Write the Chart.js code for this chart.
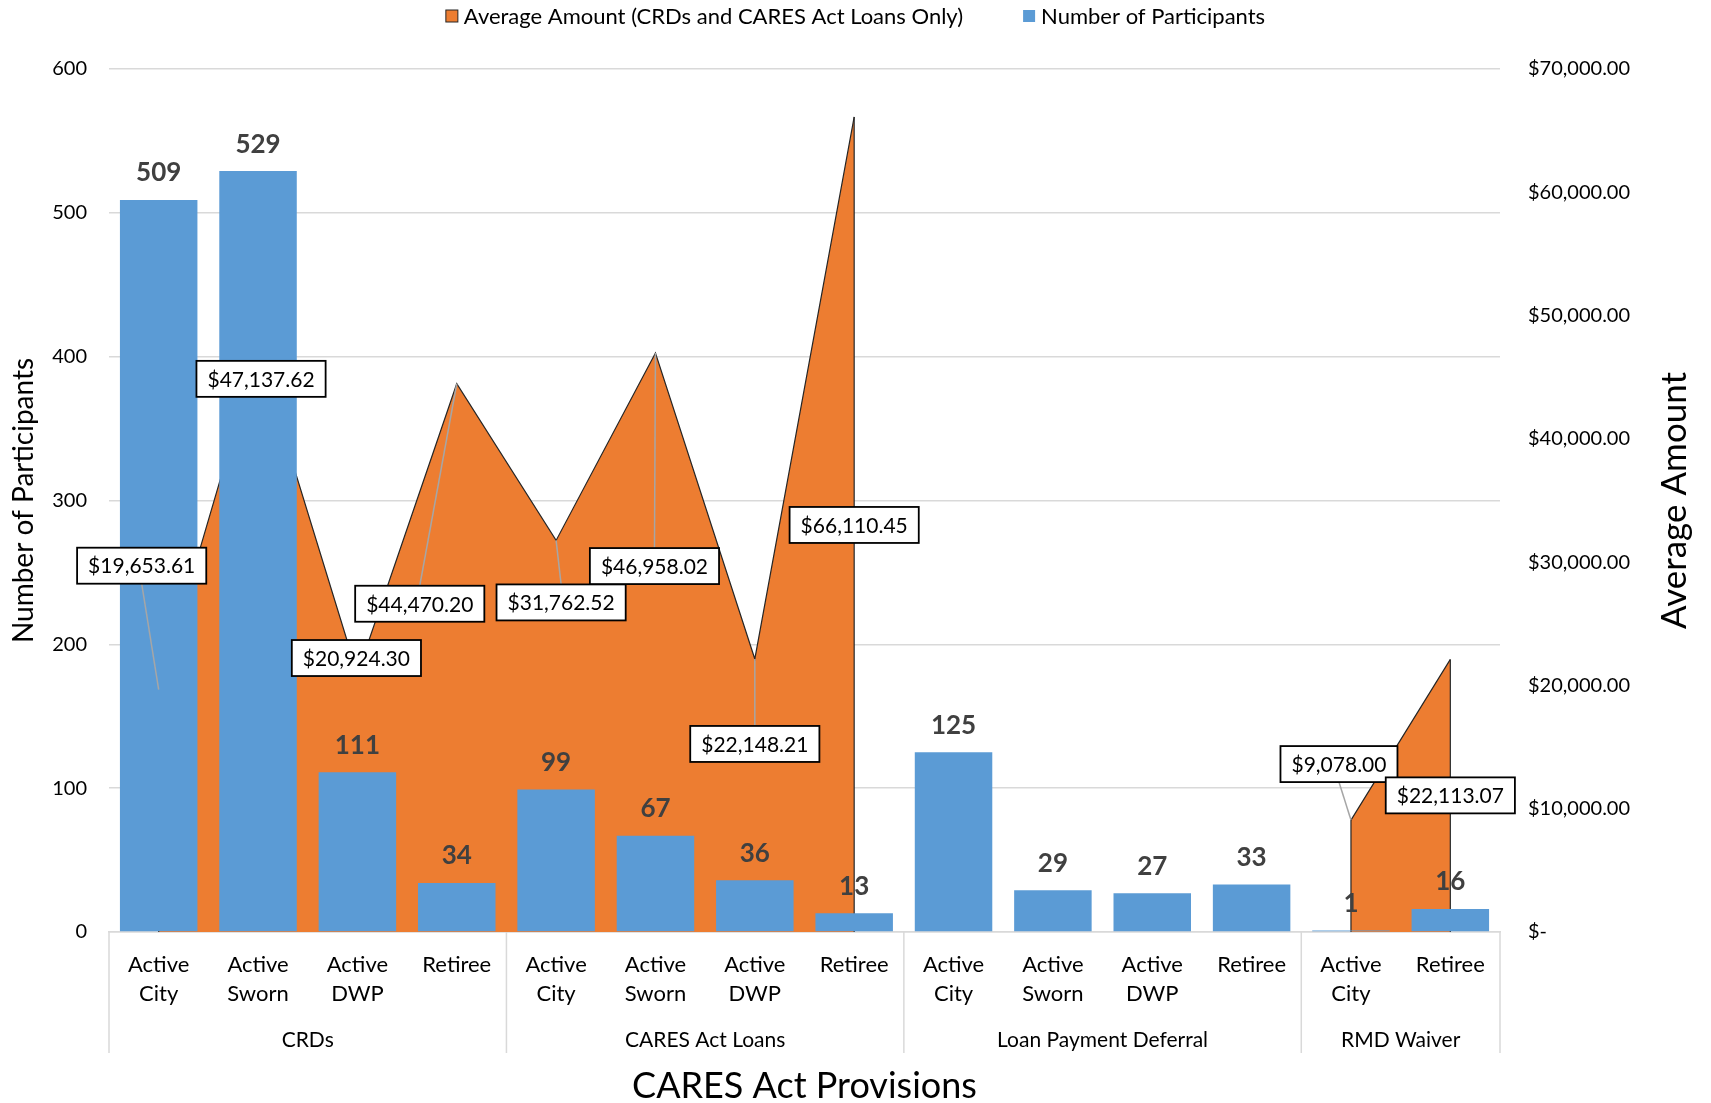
<!DOCTYPE html>
<html lang="en">
<head>
<meta charset="UTF-8">
<title>CARES Act Provisions</title>
<script src="https://cdn.jsdelivr.net/npm/chart.js"></script>
<style>
  body { margin: 0; background: #fff; }
  canvas { display: block; }
</style>
</head>
<body>
<canvas id="caresChart" width="1711" height="1103"></canvas>
<script>
// participant groups along the category axis
const categories = [
  ['Active', 'City'], ['Active', 'Sworn'], ['Active', 'DWP'], ['Retiree'],
  ['Active', 'City'], ['Active', 'Sworn'], ['Active', 'DWP'], ['Retiree'],
  ['Active', 'City'], ['Active', 'Sworn'], ['Active', 'DWP'], ['Retiree'],
  ['Active', 'City'], ['Retiree']
];
const provisions = ['CRDs', 'CARES Act Loans', 'Loan Payment Deferral', 'RMD Waiver'];
const provisionSizes = [4, 4, 4, 2];

const participants = [509, 529, 111, 34, 99, 67, 36, 13, 125, 29, 27, 33, 1, 16];
const avgAmount = [19653.61, 47137.62, 20924.30, 44470.20, 31762.52, 46958.02, 22148.21, 66110.45,
  null, null, null, null, 9078.00, 22113.07];

// where each amount callout sits relative to its point
const calloutOffsets = [
  { dx: -17, dy: -124, leader: true },
  { dx: 3, dy: 28, leader: false },
  { dx: -1, dy: -16, leader: false },
  { dx: -37, dy: 220, leader: true },
  { dx: 5, dy: 62, leader: true },
  { dx: -1, dy: 213, leader: true },
  { dx: 0, dy: 85, leader: true },
  { dx: 0, dy: 408, leader: false },
  null, null, null, null,
  { dx: -12, dy: -56, leader: true },
  { dx: 0, dy: 136, leader: false }
];

const FONT = 'Lato, "Open Sans", sans-serif';
const BLUE = '#5B9BD5';
const ORANGE = '#ED7D31';
const GRID = '#D9D9D9';

const money = v => '$' + v.toLocaleString('en-US', { minimumFractionDigits: 2, maximumFractionDigits: 2 });

// closes the area runs with vertical edges (drawn under the bars)
const areaEdges = {
  id: 'areaEdges',
  afterDatasetDraw(chart, args) {
    if (args.meta.type !== 'line') return;
    const ctx = chart.ctx;
    const base = chart.scales.y1.getPixelForValue(0);
    const pts = args.meta.data;
    ctx.save();
    ctx.strokeStyle = '#262626';
    ctx.lineWidth = 1.2;
    let start = null;
    for (let i = 0; i <= pts.length; i++) {
      const ok = pts[i] && !pts[i].skip;
      if (ok && start === null) start = i;
      if (!ok && start !== null) {
        const a = pts[start], b = pts[i - 1];
        ctx.beginPath();
        ctx.moveTo(a.x, base); ctx.lineTo(a.x, a.y);
        ctx.moveTo(b.x, b.y); ctx.lineTo(b.x, base);
        ctx.stroke();
        start = null;
      }
    }
    ctx.restore();
  }
};

// bar counts and boxed amount callouts
const valueLabels = {
  id: 'valueLabels',
  afterDatasetsDraw(chart) {
    const ctx = chart.ctx;
    ctx.save();
    const bars = chart.getDatasetMeta(0).data;
    ctx.font = `bold 26px ${FONT}`;
    ctx.fillStyle = '#404040';
    ctx.textAlign = 'center';
    ctx.textBaseline = 'middle';
    bars.forEach((b, i) => ctx.fillText(String(participants[i]), b.x, b.y - 27));

    const pts = chart.getDatasetMeta(1).data;
    ctx.font = `21px ${FONT}`;
    pts.forEach((p, i) => {
      const off = calloutOffsets[i];
      if (avgAmount[i] === null || !off) return;
      const text = money(avgAmount[i]);
      const w = ctx.measureText(text).width + 22;
      const h = 36;
      const cx = p.x + off.dx, cy = p.y + off.dy;
      if (off.leader) {
        ctx.strokeStyle = '#A6A6A6';
        ctx.lineWidth = 1.5;
        ctx.beginPath();
        ctx.moveTo(cx, p.y < cy ? cy - h / 2 : cy + h / 2);
        ctx.lineTo(p.x, p.y);
        ctx.stroke();
      }
      ctx.fillStyle = '#fff';
      ctx.fillRect(cx - w / 2, cy - h / 2, w, h);
      ctx.strokeStyle = '#000';
      ctx.lineWidth = 1.8;
      ctx.strokeRect(cx - w / 2, cy - h / 2, w, h);
      ctx.fillStyle = '#000';
      ctx.fillText(text, cx, cy + 1);
    });
    ctx.restore();
  }
};

// provision groups under the axis, right-hand title and legend
const decorations = {
  id: 'decorations',
  afterDraw(chart) {
    const ctx = chart.ctx;
    const area = chart.chartArea;
    const x = chart.scales.x;
    const n = categories.length;
    const half = (area.right - area.left) / n / 2;
    ctx.save();

    ctx.strokeStyle = GRID;
    ctx.lineWidth = 1.5;
    ctx.fillStyle = '#000';
    ctx.font = `21px ${FONT}`;
    ctx.textAlign = 'center';
    ctx.textBaseline = 'middle';
    let s = 0;
    provisionSizes.forEach((size, g) => {
      const left = x.getPixelForValue(s) - half;
      ctx.beginPath();
      ctx.moveTo(left, area.bottom);
      ctx.lineTo(left, area.bottom + 121);
      ctx.stroke();
      const mid = (x.getPixelForValue(s) + x.getPixelForValue(s + size - 1)) / 2;
      ctx.fillText(provisions[g], mid, area.bottom + 108);
      s += size;
    });
    ctx.beginPath();
    ctx.moveTo(area.right, area.bottom);
    ctx.lineTo(area.right, area.bottom + 121);
    ctx.stroke();

    // right axis title, reading upward
    ctx.save();
    ctx.translate(1675, (area.top + area.bottom) / 2);
    ctx.rotate(-Math.PI / 2);
    ctx.font = `35px ${FONT}`;
    ctx.fillText('Average Amount', 0, 0);
    ctx.restore();

    // legend
    const items = [chart.data.datasets[1], chart.data.datasets[0]];
    ctx.font = `22px ${FONT}`;
    ctx.textAlign = 'left';
    const box = 12, gap = 6, spacing = 60;
    const widths = items.map(d => box + gap + ctx.measureText(d.label).width);
    let lx = (chart.width - (widths[0] + widths[1] + spacing)) / 2;
    const ly = 16;
    items.forEach((d, i) => {
      ctx.fillStyle = d.backgroundColor;
      ctx.fillRect(lx, ly - box / 2, box, box);
      if (d.type === 'line') {
        ctx.strokeStyle = '#262626';
        ctx.lineWidth = 1;
        ctx.strokeRect(lx, ly - box / 2, box, box);
      }
      ctx.fillStyle = '#000';
      ctx.fillText(d.label, lx + box + gap, ly + 1);
      lx += widths[i] + spacing;
    });
    ctx.restore();
  }
};

new Chart(document.getElementById('caresChart'), {
  data: {
    labels: categories,
    datasets: [
      {
        type: 'bar',
        label: 'Number of Participants',
        data: participants,
        yAxisID: 'y',
        backgroundColor: BLUE,
        barPercentage: 0.78,
        categoryPercentage: 1
      },
      {
        type: 'line',
        label: 'Average Amount (CRDs and CARES Act Loans Only)',
        data: avgAmount,
        yAxisID: 'y1',
        backgroundColor: ORANGE,
        borderColor: '#262626',
        borderWidth: 1.2,
        pointRadius: 0,
        tension: 0,
        fill: 'origin'
      }
    ]
  },
  options: {
    responsive: false,
    animation: false,
    layout: { padding: { top: 69, left: 0, right: 0, bottom: 0 } },
    plugins: {
      legend: { display: false },
      tooltip: { enabled: false }
    },
    scales: {
      x: {
        grid: { display: true, drawOnChartArea: false, drawTicks: false },
        border: { display: true, color: GRID, width: 1.5 },
        ticks: {
          color: '#000',
          font: { family: FONT, size: 22, lineHeight: 1.3 },
          padding: 19,
          autoSkip: false,
          maxRotation: 0
        },
        title: {
          display: true,
          text: 'CARES Act Provisions',
          color: '#000',
          font: { family: FONT, size: 36, lineHeight: 0.9 },
          padding: 0
        },
        afterFit: s => { s.height = 171; }
      },
      y: {
        position: 'left',
        min: 0,
        max: 600,
        ticks: { stepSize: 100, color: '#000', font: { family: FONT, size: 20 }, padding: 22 },
        grid: { color: GRID, lineWidth: 1.5, drawTicks: false },
        border: { display: false },
        title: {
          display: true,
          text: 'Number of Participants',
          color: '#000',
          font: { family: FONT, size: 28 },
          padding: { top: 7, bottom: 0 }
        },
        afterFit: s => { s.width = 109; }
      },
      y1: {
        position: 'right',
        min: 0,
        max: 70000,
        ticks: {
          stepSize: 10000,
          color: '#000',
          font: { family: FONT, size: 20 },
          padding: 28,
          callback: v => v === 0 ? '$-' : money(v)
        },
        grid: { display: false, drawTicks: false },
        border: { display: false },
        afterFit: s => { s.width = 211; }
      }
    }
  },
  plugins: [areaEdges, valueLabels, decorations]
});
</script>
</body>
</html>
